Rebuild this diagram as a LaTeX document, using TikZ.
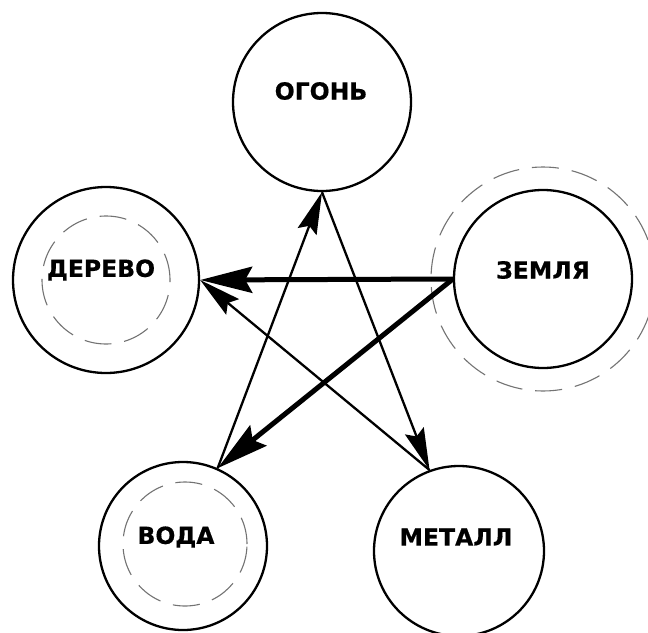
\documentclass[tikz,border=0pt]{standalone}
\usepackage{fontspec}
\setmainfont{DejaVu Sans}[BoldFeatures={FakeBold=0.6}]
\usetikzlibrary{arrows.meta}

\tikzset{
  elem/.style={circle, draw=black, line width=2.3pt, minimum size=#1, inner sep=0pt},
  ring/.style={circle, draw=black!55, line width=1.1pt, dash pattern=on 27pt off 13pt, minimum size=#1, inner sep=0pt},
  lbl/.style={font=\bfseries\fontsize{23.5}{25}\selectfont, inner sep=0pt},
  thinarrow/.style={line width=2.3pt, -{Stealth[length=42pt, width=20pt, inset=6pt]}},
  thickarrow/.style={line width=5pt, -{Stealth[length=52pt, width=26pt, inset=7pt]}},
}

\begin{document}
\begin{tikzpicture}[x=1pt, y=-1pt]
  \useasboundingbox (0,0) rectangle (648,632);

  % the five element circles
  \node[elem=178pt] (fire)  at (322,102) {};
  \node[elem=186pt] (wood)  at (106,280) {};
  \node[elem=178pt] (earth) at (543,279) {};
  \node[elem=168pt] (water) at (183,546) {};
  \node[elem=170pt] (metal) at (459,551) {};

  % dashed halos
  \node[ring=128pt] (woodring)  at (106,280) {};
  \node[ring=224pt] (earthring) at (543,279) {};
  \node[ring=124pt] (waterring) at (185,544) {};

  % names
  \node[lbl] (firename)  at (321,91)  {ОГОНЬ};
  \node[lbl] (woodname)  at (101,270) {ДЕРЕВО};
  \node[lbl] (earthname) at (543,270) {ЗЕМЛЯ};
  \node[lbl] (watername) at (176,537) {ВОДА};
  \node[lbl] (metalname) at (456,537) {МЕТАЛЛ};

  % generating cycle (thin) and controlling arrows (thick)
  \draw[thinarrow]  (water.66)  -- (fire.south);
  \draw[thinarrow]  (fire.south) -- (metal.110);
  \draw[thinarrow]  (metal.110) -- (wood.east);
  \draw[thickarrow] (earth.west) -- (wood.east);
  \draw[thickarrow] (earth.west) -- (water.66);
\end{tikzpicture}
\end{document}
